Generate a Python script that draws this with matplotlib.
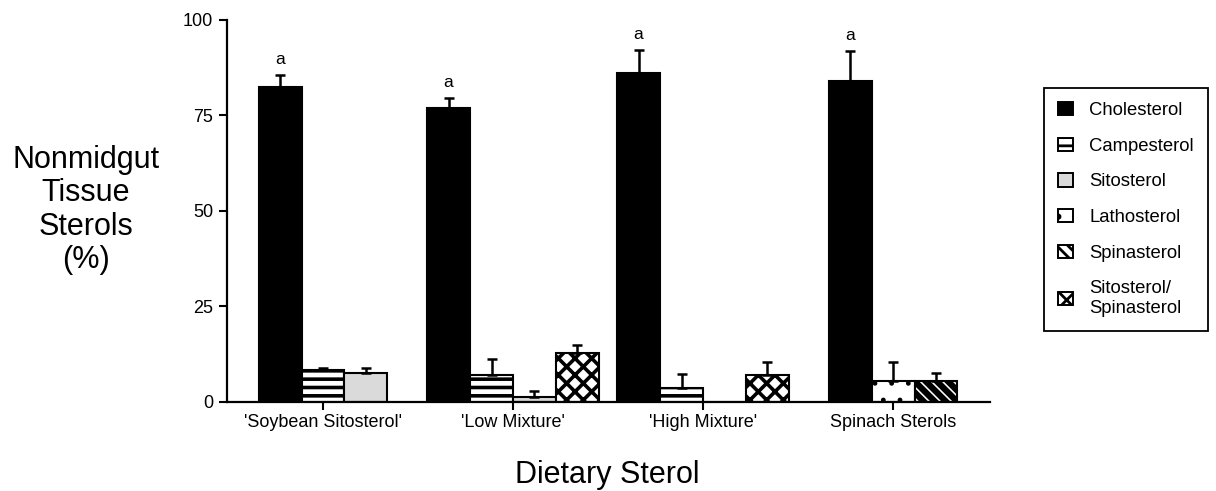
import numpy as np
import matplotlib
matplotlib.use("Agg")
import matplotlib.pyplot as plt
from matplotlib.patches import Patch

plt.rcParams["font.family"] = ["Liberation Sans", "DejaVu Sans"]
plt.rcParams["hatch.linewidth"] = 2.0

# dietary treatments (x categories)
diets = ["'Soybean Sitosterol'", "'Low Mixture'", "'High Mixture'", "Spinach Sterols"]

# sterol series
sterols = ["Cholesterol", "Campesterol", "Sitosterol", "Lathosterol",
           "Spinasterol", "Sitosterol/\nSpinasterol"]

# per diet: which sterols were measured, their means and (upper) SE
present = [
    ["Cholesterol", "Campesterol", "Sitosterol"],
    ["Cholesterol", "Campesterol", "Sitosterol", "Sitosterol/\nSpinasterol"],
    ["Cholesterol", "Campesterol", "Sitosterol", "Sitosterol/\nSpinasterol"],
    ["Cholesterol", "Lathosterol", "Spinasterol"],
]
means = [
    [82.5, 8.4, 7.7],
    [76.9, 7.1, 1.2, 12.7],
    [86.0, 3.6, 0.0, 7.1],
    [84.1, 5.6, 5.6],
]
errs = [
    [3.1, 0.6, 1.3],
    [2.8, 4.2, 1.7, 2.2],
    [6.1, 3.7, 0.0, 3.3],
    [7.9, 4.9, 1.9],
]
letters = ["a", "a", "a", "a"]

styles = {
    "Cholesterol": dict(facecolor="black", hatch=None, hlw=2.0),
    "Campesterol": dict(facecolor="white", hatch="--", hlw=2.6),
    "Sitosterol": dict(facecolor="#dadada", hatch=None, hlw=2.0),
    "Lathosterol": dict(facecolor="white", hatch=".", hlw=1.0),
    "Spinasterol": dict(facecolor="white", hatch="\\\\\\", hlw=4.5),
    "Sitosterol/\nSpinasterol": dict(facecolor="white", hatch="xx", hlw=2.6),
}


def set_hlw(patch, lw):
    if hasattr(patch, "set_hatch_linewidth"):
        patch.set_hatch_linewidth(lw)


fig = plt.figure(figsize=(12.16, 4.91), dpi=100)
ax = fig.add_axes([0.1867, 0.1813, 0.8141 - 0.1867, 0.9593 - 0.1813])

width = 0.226
x = np.arange(len(diets))
for i, (names, vals, es) in enumerate(zip(present, means, errs)):
    n = len(names)
    offsets = (np.arange(n) - (n - 1) / 2) * width
    for name, off, v, e in zip(names, offsets, vals, es):
        st = styles[name]
        with plt.rc_context({"hatch.linewidth": st["hlw"]}):
            bars = ax.bar(x[i] + off, v, width, color=st["facecolor"], edgecolor="black",
                          linewidth=1.5, hatch=st["hatch"], zorder=2)
        for b in bars:
            set_hlw(b, st["hlw"])
        if e > 0:
            ax.errorbar(x[i] + off, v, yerr=[[0], [e]], fmt="none", ecolor="black",
                        elinewidth=1.8, capsize=3.5, capthick=1.8, zorder=3)
    ax.text(x[i] + offsets[0], vals[0] + es[0] + 4, letters[i], ha="center",
            va="center", fontsize=12.5)

ax.set_xlim(-0.505, 3.51)
ax.set_ylim(0, 100)
ax.set_yticks([0, 25, 50, 75, 100])
ax.set_xticks(x)
ax.set_xticklabels(diets)
ax.tick_params(axis="both", direction="out", length=6, width=1.5, labelsize=13,
               color="black")
ax.tick_params(axis="x", pad=3)
ax.tick_params(axis="y", pad=4)
for s in ["top", "right"]:
    ax.spines[s].set_visible(False)
for s in ["left", "bottom"]:
    ax.spines[s].set_linewidth(1.6)

fig.text(0.0707, 0.572, "Nonmidgut\nTissue\nSterols\n(%)", ha="center", va="center",
         fontsize=22, linespacing=1.15)
fig.text(0.499, 0.0163, "Dietary Sterol", ha="center", va="baseline", fontsize=22)

handles = []
for s in sterols:
    st = styles[s]
    with plt.rc_context({"hatch.linewidth": min(st["hlw"], 1.5)}):
        p = Patch(facecolor=st["facecolor"], edgecolor="black", hatch=st["hatch"],
                  linewidth=1.4)
    set_hlw(p, min(st["hlw"], 1.5))
    handles.append(p)
leg = fig.legend(handles, sterols, loc="upper left", bbox_to_anchor=(0.8586, 0.8208),
                 bbox_transform=fig.transFigure, fancybox=False, edgecolor="black",
                 fontsize=13.3, handlelength=0.8, handleheight=0.75, handletextpad=0.9,
                 labelspacing=1.0, borderpad=0.75, borderaxespad=0, framealpha=1)
leg.get_frame().set_linewidth(1.3)

fig.savefig("out.png", dpi=100)
